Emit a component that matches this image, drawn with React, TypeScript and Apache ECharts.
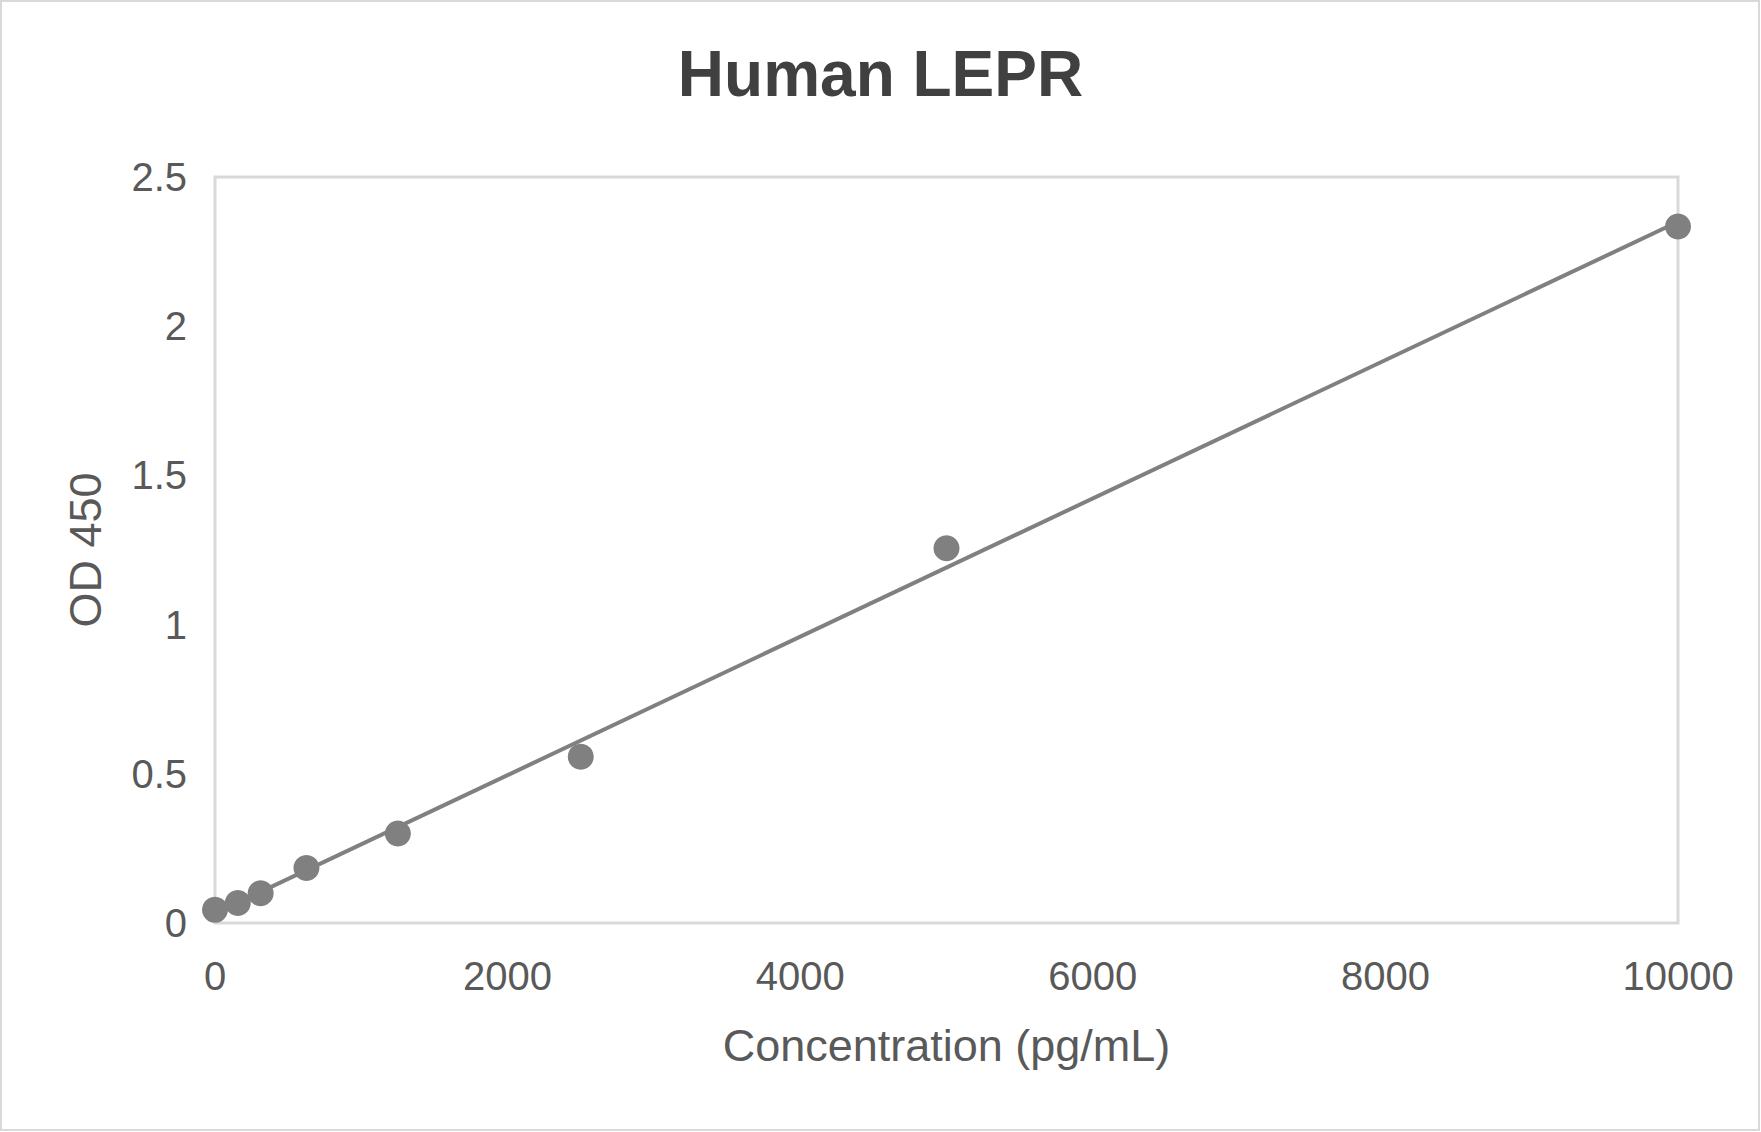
import { useEffect, useRef } from "react";
import * as echarts from "echarts";

// standard curve points
const concentrations = [0, 156, 312, 625, 1250, 2500, 5000, 10000];
const odValues = [0.044, 0.067, 0.1, 0.184, 0.3, 0.557, 1.256, 2.334];

// linear trendline end points as drawn
const trendX = [0, 10000];
const trendY = [0.032, 2.35];

const FONT = "'Liberation Sans', Arial, sans-serif";
const GREY = "#808080";
const BORDER = "#d9d9d9";
const LABEL = "#595959";

export default function App() {
  const chartRef = useRef<HTMLDivElement | null>(null);

  useEffect(() => {
    if (!chartRef.current) return;
    const chart = echarts.init(chartRef.current, null, { renderer: "svg" });
    chart.setOption({
      animation: false,
      backgroundColor: "#ffffff",
      title: {
        text: "Human LEPR",
        left: "center",
        top: 42,
        padding: 0,
        textStyle: { fontFamily: FONT, fontSize: 64, fontWeight: "bold", color: "#404040" }
      },
      graphic: [
        {
          type: "rect",
          shape: { x: 1, y: 1, width: 1758, height: 1129 },
          style: { fill: "none", stroke: BORDER, lineWidth: 2 },
          silent: true
        }
      ],
      grid: {
        left: 215,
        right: 83,
        top: 177,
        bottom: 209,
        show: true,
        borderColor: BORDER,
        borderWidth: 3
      },
      xAxis: {
        type: "value",
        min: 0,
        max: 10000,
        interval: 2000,
        name: "Concentration (pg/mL)",
        nameLocation: "middle",
        nameGap: 100,
        nameTextStyle: { fontFamily: FONT, fontSize: 45, color: LABEL },
        axisLine: { show: false },
        axisTick: { show: false },
        splitLine: { show: false },
        axisLabel: {
          fontFamily: FONT,
          fontSize: 40,
          color: LABEL,
          margin: 33,
          formatter: (v: number) => String(v)
        }
      },
      yAxis: {
        type: "value",
        min: 0,
        max: 2.5,
        interval: 0.5,
        name: "OD 450",
        nameLocation: "middle",
        nameGap: 107,
        nameTextStyle: { fontFamily: FONT, fontSize: 45, color: LABEL },
        axisLine: { show: false },
        axisTick: { show: false },
        splitLine: { show: false },
        axisLabel: { fontFamily: FONT, fontSize: 40, color: LABEL, margin: 28 }
      },
      series: [
        {
          type: "line",
          data: trendX.map((x, i) => [x, trendY[i]]),
          showSymbol: false,
          lineStyle: { color: GREY, width: 4 },
          z: 2
        },
        {
          type: "scatter",
          data: concentrations.map((x, i) => [x, odValues[i]]),
          symbolSize: 26,
          itemStyle: { color: GREY, opacity: 1 },
          z: 3
        }
      ]
    });
    return () => {
      chart.dispose();
    };
  }, []);

  return (
    <div
      ref={chartRef}
      style={{ position: "fixed", left: 0, top: 0, width: 1761, height: 1132 }}
    />
  );
}
